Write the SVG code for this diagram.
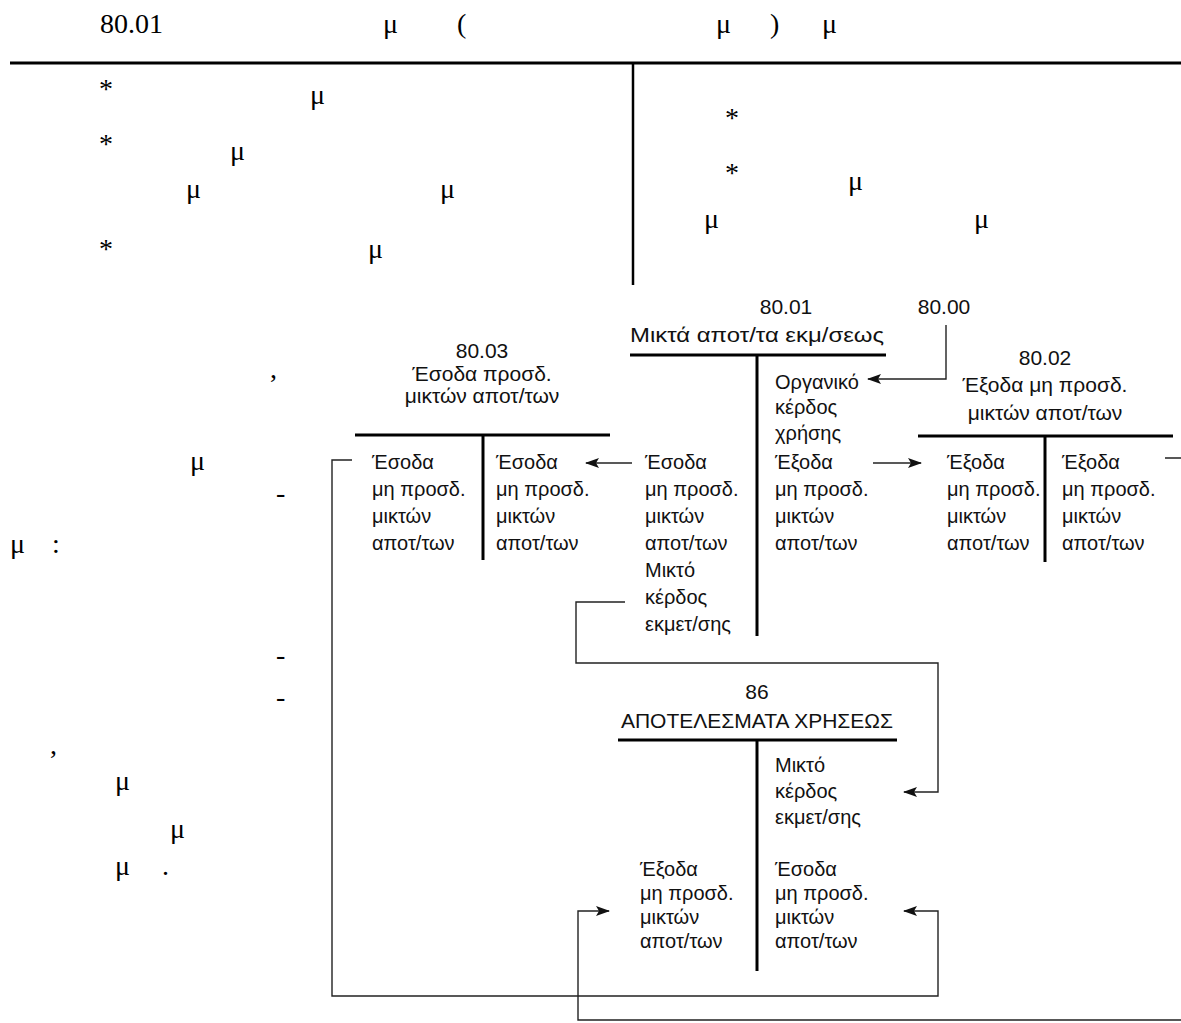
<svg xmlns="http://www.w3.org/2000/svg" width="1181" height="1023" viewBox="0 0 1181 1023">
<style>
.tm{font-family:"Liberation Serif","Times New Roman",serif;font-size:28px;fill:#000}
.t{font-family:"Liberation Sans",Arial,sans-serif;font-size:20px;fill:#111}
.h{font-family:"Liberation Sans",Arial,sans-serif;font-size:21px;fill:#111}
.c{text-anchor:middle}
.bar{stroke:#000;stroke-width:3;fill:none}
.rule{stroke:#000;stroke-width:3;fill:none}
.con{stroke:#222;stroke-width:1.4;fill:none}
</style>
<defs>
<marker id="ah" markerUnits="userSpaceOnUse" markerWidth="14" markerHeight="10" refX="13" refY="5" orient="auto">
<path d="M0,0 L14,5 L0,10 L3,5 Z" fill="#111"/>
</marker>
</defs>
<rect width="1181" height="1023" fill="#fff"/>
<g id="page-text">
<line class="rule" x1="10" y1="63" x2="1181" y2="63"/>
<line x1="633" y1="63" x2="633" y2="285" stroke="#000" stroke-width="2.5"/>
<text class="tm" x="100" y="33">80.01</text>
<text class="tm" x="383" y="33">μ</text>
<text class="tm" x="457" y="33">(</text>
<text class="tm" x="716" y="33">μ</text>
<text class="tm" x="770" y="33">)</text>
<text class="tm" x="822" y="33">μ</text>
<text class="tm" x="99" y="98">*</text>
<text class="tm" x="310" y="104">μ</text>
<text class="tm" x="99" y="153">*</text>
<text class="tm" x="230" y="160">μ</text>
<text class="tm" x="186" y="198">μ</text>
<text class="tm" x="440" y="198">μ</text>
<text class="tm" x="99" y="258">*</text>
<text class="tm" x="368" y="258">μ</text>
<text class="tm" x="725" y="127">*</text>
<text class="tm" x="725" y="182">*</text>
<text class="tm" x="848" y="190">μ</text>
<text class="tm" x="704" y="228">μ</text>
<text class="tm" x="974" y="228">μ</text>
<text class="tm" x="270" y="378">,</text>
<text class="tm" x="190" y="470">μ</text>
<text class="tm" x="276" y="502">-</text>
<text class="tm" x="10" y="553">μ</text>
<text class="tm" x="52" y="553">:</text>
<text class="tm" x="276" y="664">-</text>
<text class="tm" x="276" y="706">-</text>
<text class="tm" x="50" y="754">,</text>
<text class="tm" x="115" y="790">μ</text>
<text class="tm" x="170" y="838">μ</text>
<text class="tm" x="115" y="875">μ</text>
<text class="tm" x="162" y="875">.</text>
</g>
<g id="acc-80-00">
<text class="h c" x="944" y="314">80.00</text>
</g>
<g id="acc-80-01">
<text class="h c" x="786" y="314">80.01</text>
<text class="h c" x="757" y="342" textLength="254" lengthAdjust="spacingAndGlyphs">Μικτά αποτ/τα εκμ/σεως</text>
<line class="bar" x1="630" y1="355" x2="886" y2="355"/>
<line class="bar" x1="757" y1="355" x2="757" y2="636"/>
<text class="t" x="775"><tspan x="775" y="389">Οργανικό</tspan><tspan x="775" y="414">κέρδος</tspan><tspan x="775" y="440">χρήσης</tspan><tspan x="775" y="469">Έξοδα</tspan><tspan x="775" y="496">μη προσδ.</tspan><tspan x="775" y="523">μικτών</tspan><tspan x="775" y="550">αποτ/των</tspan></text>
<text class="t" x="645"><tspan x="645" y="469">Έσοδα</tspan><tspan x="645" y="496">μη προσδ.</tspan><tspan x="645" y="523">μικτών</tspan><tspan x="645" y="550">αποτ/των</tspan><tspan x="645" y="577">Μικτό</tspan><tspan x="645" y="604">κέρδος</tspan><tspan x="645" y="631">εκμετ/σης</tspan></text>
</g>
<g id="acc-80-03">
<text class="h c" x="482"><tspan x="482" y="358">80.03</tspan><tspan x="482" y="381">Έσοδα προσδ.</tspan><tspan x="482" y="403">μικτών αποτ/των</tspan></text>
<line class="bar" x1="355" y1="435" x2="610" y2="435"/>
<line class="bar" x1="483" y1="435" x2="483" y2="560"/>
<text class="t"><tspan x="372" y="469">Έσοδα</tspan><tspan x="372" y="496">μη προσδ.</tspan><tspan x="372" y="523">μικτών</tspan><tspan x="372" y="550">αποτ/των</tspan></text>
<text class="t"><tspan x="496" y="469">Έσοδα</tspan><tspan x="496" y="496">μη προσδ.</tspan><tspan x="496" y="523">μικτών</tspan><tspan x="496" y="550">αποτ/των</tspan></text>
</g>
<g id="acc-80-02">
<text class="h c" x="1045"><tspan x="1045" y="365">80.02</tspan><tspan x="1045" y="392">Έξοδα μη προσδ.</tspan><tspan x="1045" y="420">μικτών αποτ/των</tspan></text>
<line class="bar" x1="918" y1="436" x2="1173" y2="436"/>
<line class="bar" x1="1045" y1="436" x2="1045" y2="562"/>
<text class="t"><tspan x="947" y="469">Έξοδα</tspan><tspan x="947" y="496">μη προσδ.</tspan><tspan x="947" y="523">μικτών</tspan><tspan x="947" y="550">αποτ/των</tspan></text>
<text class="t"><tspan x="1062" y="469">Έξοδα</tspan><tspan x="1062" y="496">μη προσδ.</tspan><tspan x="1062" y="523">μικτών</tspan><tspan x="1062" y="550">αποτ/των</tspan></text>
</g>
<g id="acc-86">
<text class="h c" x="757"><tspan x="757" y="699">86</tspan><tspan x="757" y="728">ΑΠΟΤΕΛΕΣΜΑΤΑ ΧΡΗΣΕΩΣ</tspan></text>
<line class="bar" x1="618" y1="740" x2="897" y2="740"/>
<line class="bar" x1="757" y1="740" x2="757" y2="971"/>
<text class="t"><tspan x="775" y="772">Μικτό</tspan><tspan x="775" y="798">κέρδος</tspan><tspan x="775" y="824">εκμετ/σης</tspan><tspan x="775" y="876">Έσοδα</tspan><tspan x="775" y="900">μη προσδ.</tspan><tspan x="775" y="924">μικτών</tspan><tspan x="775" y="948">αποτ/των</tspan></text>
<text class="t"><tspan x="640" y="876">Έξοδα</tspan><tspan x="640" y="900">μη προσδ.</tspan><tspan x="640" y="924">μικτών</tspan><tspan x="640" y="948">αποτ/των</tspan></text>
</g>
<g id="connectors">
<polyline class="con" points="946,325 946,379 868,379" marker-end="url(#ah)"/>
<line class="con" x1="873" y1="463" x2="921" y2="463" marker-end="url(#ah)"/>
<line class="con" x1="632" y1="463" x2="586" y2="463" marker-end="url(#ah)"/>
<polyline class="con" points="625,602 576,602 576,663 938,663 938,792 904,792" marker-end="url(#ah)"/>
<polyline class="con" points="352,460 332,460 332,996 938,996 938,911 904,911" marker-end="url(#ah)"/>
<polyline class="con" points="1165,458 1190,458 1190,1020 578,1020 578,911 609,911" marker-end="url(#ah)"/>
</g>
</svg>
